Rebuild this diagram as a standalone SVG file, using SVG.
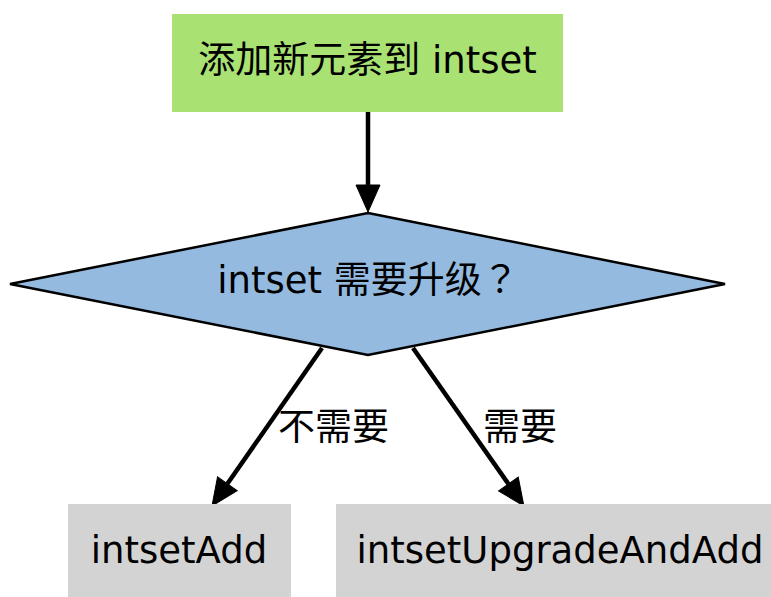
<svg xmlns="http://www.w3.org/2000/svg" width="771" height="597" viewBox="0 0 771 597">
<style>
text{font-family:"DejaVu Sans","Noto Sans CJK SC",sans-serif;font-size:37px;fill:#000}
.c{text-anchor:middle}
.q{font-family:"Noto Sans CJK TC","Noto Sans CJK SC",sans-serif}
.e{fill:none;stroke:#000;stroke-width:4.5}
</style>
<defs>
<marker id="ah" markerUnits="userSpaceOnUse" markerWidth="30" markerHeight="26" refX="0" refY="12" orient="auto" overflow="visible">
<path d="M0,0 L27,12 L0,24 Z" fill="#000" stroke="#000" stroke-width="1"/>
</marker>
</defs>
<rect width="771" height="597" fill="#fff"/>
<g id="connectors">
<path class="e" d="M368,112 L368,185" marker-end="url(#ah)"/>
<path class="e" d="M322,348 L227.4,483.8" marker-end="url(#ah)"/>
<path class="e" d="M413,348 L508.4,484" marker-end="url(#ah)"/>
<text x="278" y="440">不需要</text>
<text x="483" y="440">需要</text>
</g>
<g id="start">
<rect x="172" y="14" width="391" height="98" fill="#a9e273"/>
<text class="c" x="367.5" y="73">添加新元素到 intset</text>
</g>
<g id="decision">
<polygon points="368,213 725,284 368,355 10,284" fill="#94bae0" stroke="#000" stroke-width="2.5"/>
<text class="c" x="368" y="293">intset 需要升级<tspan class="q">？</tspan></text>
</g>
<g id="add">
<rect x="68" y="504" width="223" height="100" fill="#d3d3d3"/>
<text class="c" x="179" y="563">intsetAdd</text>
</g>
<g id="upgrade">
<rect x="336" y="504" width="448" height="100" fill="#d3d3d3"/>
<text class="c" x="560" y="563">intsetUpgradeAndAdd</text>
</g>
</svg>
